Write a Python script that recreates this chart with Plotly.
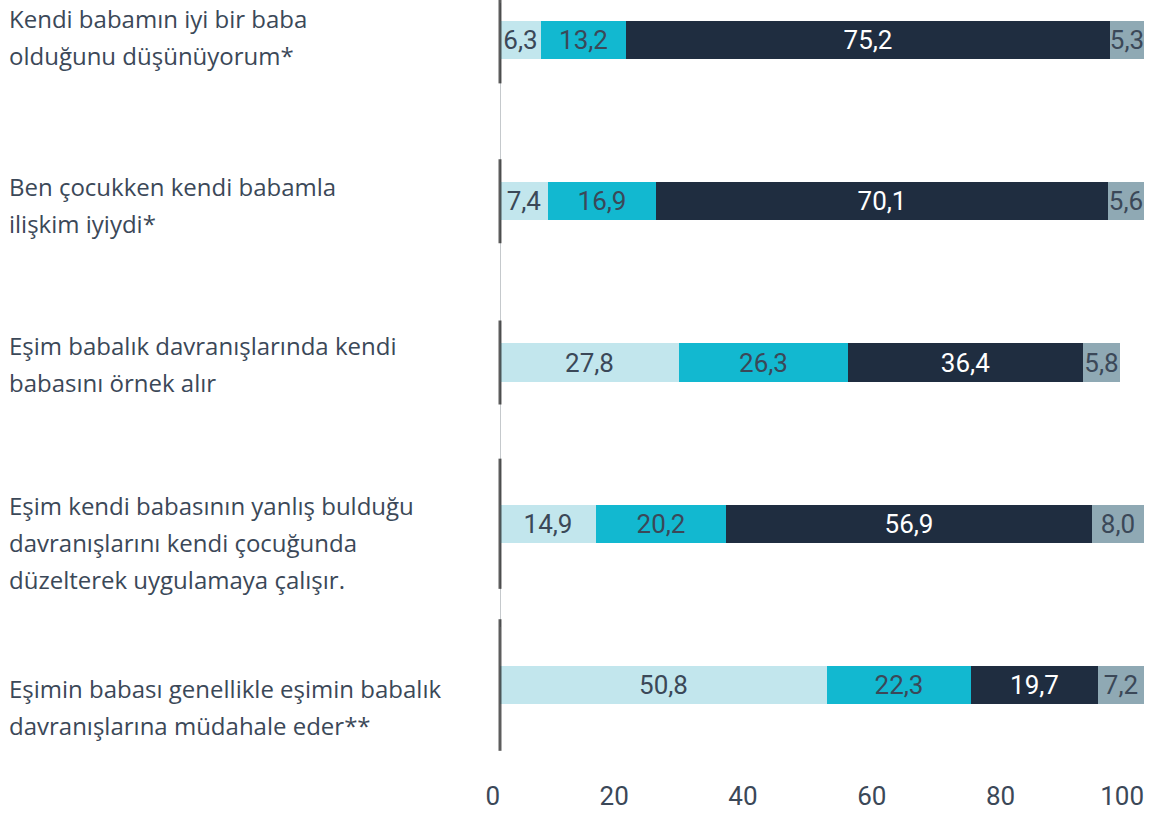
import plotly.graph_objects as go

categories = [
    ["Kendi babamın iyi bir baba", "olduğunu düşünüyorum*"],
    ["Ben çocukken kendi babamla", "ilişkim iyiydi*"],
    ["Eşim babalık davranışlarında kendi", "babasını örnek alır"],
    ["Eşim kendi babasının yanlış bulduğu", "davranışlarını kendi çocuğunda", "düzelterek uygulamaya çalışır."],
    ["Eşimin babası genellikle eşimin babalık", "davranışlarına müdahale eder**"],
]
series1 = [6.3, 7.4, 27.8, 14.9, 50.8]
series2 = [13.2, 16.9, 26.3, 20.2, 22.3]
series3 = [75.2, 70.1, 36.4, 56.9, 19.7]
series4 = [5.3, 5.6, 5.8, 8.0, 7.2]
tick_vals = [0, 20, 40, 60, 80, 100]

colors = ["#C2E6ED", "#12B8D0", "#1F2D40", "#8FA9B4"]
text_colors = ["#3B4858", "#3B4858", "#FFFFFF", "#3B4858"]
DARK = "#3B4858"

ypos = list(range(len(categories)))

def fmt(v):
    return f"{v:.1f}".replace(".", ",")

fig = go.Figure()
for vals, col, tcol in zip([series1, series2, series3, series4], colors, text_colors):
    fig.add_trace(go.Bar(
        x=vals, y=ypos, orientation="h",
        marker=dict(color=col, line=dict(width=0)),
        width=0.236,
        text=[fmt(v) for v in vals],
        textposition="inside", insidetextanchor="middle",
        textangle=0, constraintext="none",
        textfont=dict(family="Roboto", size=26, color=tcol),
        hoverinfo="skip", showlegend=False,
    ))

# black group markers at the axis
marker_sizes = [62, 60, 60, 93, 94]
fig.add_trace(go.Scatter(
    x=[0] * len(ypos), y=ypos, mode="markers",
    marker=dict(symbol="line-ns", size=marker_sizes,
                line=dict(width=3, color="#1A1A1A")),
    cliponaxis=False, hoverinfo="skip", showlegend=False,
))

# thin gray axis line
fig.add_shape(type="line", xref="x", yref="y", x0=0, x1=0, y0=-0.23, y1=3.64,
              line=dict(color="#C5C9CC", width=2), layer="below")

# category labels, one annotation per line
first_offsets = [-21, -15, -17, -18, 3]
line_gap = 37
for i, lines in enumerate(categories):
    for k, line in enumerate(lines):
        fig.add_annotation(
            xref="paper", yref="y", x=0, y=ypos[i], xanchor="left", yanchor="middle",
            xshift=7, yshift=-(first_offsets[i] + k * line_gap),
            text=line, showarrow=False, align="left",
            font=dict(family="Open Sans", size=24, color=DARK),
        )

fig.update_layout(
    width=1153, height=814,
    margin=dict(l=0, r=0, t=0, b=44, autoexpand=False),
    paper_bgcolor="white", plot_bgcolor="white",
    barmode="stack", bargap=0,
    xaxis=dict(domain=[500 / 1153, 1144 / 1153], range=[0, 100],
               tickvals=tick_vals, ticktext=[str(v) for v in tick_vals],
               automargin=False, ticklabelposition="outside left",
               showgrid=False, zeroline=False, showline=False,
               ticks="", ticklabelstandoff=8,
               tickfont=dict(family="Roboto", size=26, color=DARK)),
    yaxis=dict(range=[4.527, -0.248], showgrid=False, zeroline=False, automargin=False,
               showline=False, showticklabels=False, ticks=""),
)

fig.write_html("out.html", config={"displayModeBar": False},
               post_script="document.body.style.margin='0';document.body.style.overflow='hidden';")
